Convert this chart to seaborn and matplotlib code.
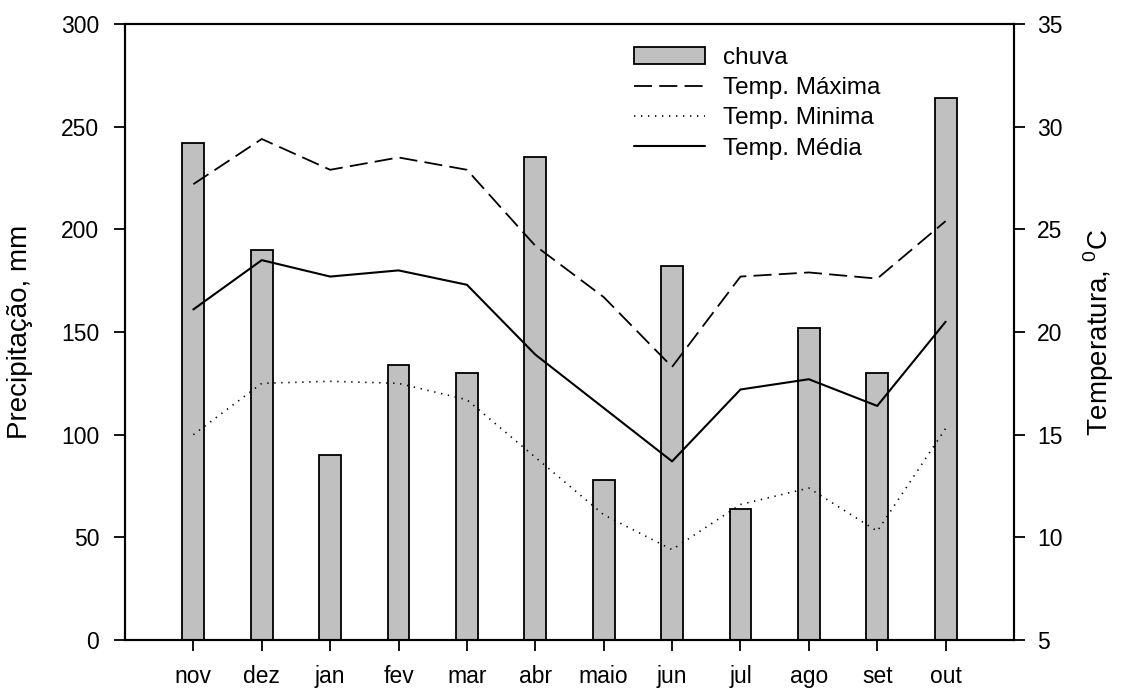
import matplotlib
matplotlib.use("Agg")
import matplotlib.pyplot as plt
import matplotlib.patches as mpatches
from matplotlib.legend_handler import HandlerPatch
import seaborn as sns
import pandas as pd
import numpy as np

months = ["nov", "dez", "jan", "fev", "mar", "abr", "maio", "jun", "jul", "ago", "set", "out"]
chuva = [242, 190, 90, 134, 130, 235, 78, 182, 64, 152, 130, 264]
temp_max = [27.2, 29.4, 27.9, 28.5, 27.9, 24.2, 21.7, 18.3, 22.7, 22.9, 22.6, 25.4]
temp_min = [15.0, 17.5, 17.6, 17.5, 16.7, 13.9, 11.1, 9.4, 11.6, 12.4, 10.3, 15.3]
temp_med = [21.1, 23.5, 22.7, 23.0, 22.3, 18.9, 16.3, 13.7, 17.2, 17.7, 16.4, 20.5]

sns.set_theme(style="white")
plt.rcParams['font.family'] = ['Liberation Sans', 'DejaVu Sans']
plt.rcParams['mathtext.fontset'] = 'custom'
plt.rcParams['mathtext.rm'] = 'Liberation Sans'
plt.rcParams['text.color'] = 'black'
plt.rcParams['axes.labelcolor'] = 'black'
plt.rcParams['xtick.color'] = 'black'
plt.rcParams['ytick.color'] = 'black'

df = pd.DataFrame({"mes": months, "pos": np.arange(len(months)), "chuva": chuva,
                   "tmax": temp_max, "tmin": temp_min, "tmed": temp_med})

fig = plt.figure(figsize=(11.22, 6.88), dpi=100)
ax = fig.add_axes([125/1122, 48/688, 889/1122, 616/688])

sns.barplot(data=df, x="mes", y="chuva", order=months, color="#c0c0c0",
            edgecolor="black", linewidth=1.3, width=0.32, ax=ax, saturation=1)
ax.set_xlim(-1.0, 12.0)
ax.set_ylim(0, 300)
ax.set_yticks([0, 50, 100, 150, 200, 250, 300])
ax.set_xlabel("")
ax.set_ylabel("Precipitação, mm", fontsize=20, labelpad=20, color="black")

ax2 = ax.twinx()
sns.lineplot(data=df, x="pos", y="tmax", ax=ax2, color="black", linewidth=1.3,
             label="Temp. Máxima")
sns.lineplot(data=df, x="pos", y="tmin", ax=ax2, color="black", linewidth=1.2,
             label="Temp. Minima")
sns.lineplot(data=df, x="pos", y="tmed", ax=ax2, color="black", linewidth=1.5,
             label="Temp. Média")
lines = ax2.get_lines()
lines[0].set_linestyle((0, (10, 4)))
lines[1].set_linestyle((0, (0.8, 3.4)))
ax2.set_ylim(5, 35)
ax2.set_yticks([5, 10, 15, 20, 25, 30, 35])
ax2.set_xlim(-1.0, 12.0)
ax2.set_xlabel("")
ax2.set_ylabel("Temperatura, $^{0}$C", fontsize=20, labelpad=14, color="black")

for a in (ax, ax2):
    for s in a.spines.values():
        s.set_color("black")
        s.set_linewidth(1.5)
    a.tick_params(axis="both", which="both", direction="out", length=8, width=1.3,
                  colors="black", labelsize=16.5, labelcolor="black")
ax.tick_params(axis="x", bottom=True, pad=10)
ax.tick_params(axis="y", left=True, pad=10.5)
ax2.tick_params(axis="y", right=True, pad=8.5)
ax.grid(False)
ax2.grid(False)


def legend_patch(legend, orig_handle, xdescent, ydescent, width, height, fontsize):
    h = 17 * 72 / 100.0
    return mpatches.Rectangle((-xdescent, (height - h) / 2 - ydescent), width, h)


h2, l2 = ax2.get_legend_handles_labels()
if ax2.get_legend():
    ax2.get_legend().remove()
bar_handle = ax.patches[0]
leg = ax2.legend([bar_handle] + h2, ["chuva"] + l2, loc="upper left",
                 bbox_to_anchor=(0.573, 0.962),
                 frameon=False, fontsize=17.5, handlelength=2.9, handletextpad=0.75,
                 labelspacing=0.33, borderaxespad=0, borderpad=0,
                 handler_map={mpatches.Rectangle: HandlerPatch(patch_func=legend_patch)})
for t in leg.get_texts():
    t.set_color("black")

fig.savefig("out.png", dpi=100)
